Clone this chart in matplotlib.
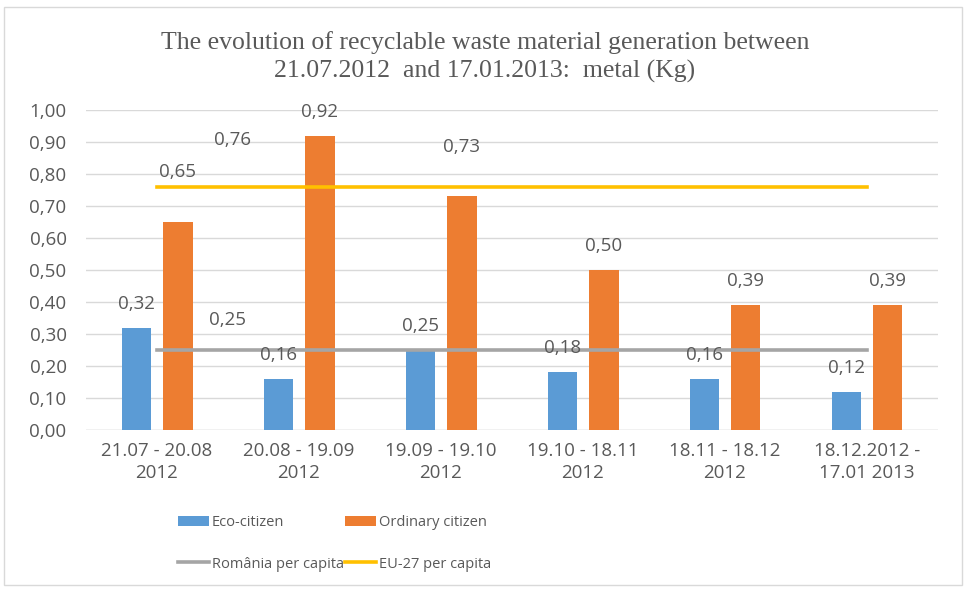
import matplotlib.pyplot as plt
import numpy as np
from matplotlib.patches import Rectangle

# Dados
periodos = ["21.07 - 20.08\n2012", "20.08 - 19.09\n2012", "19.09 - 19.10\n2012",
            "19.10 - 18.11\n2012", "18.11 - 18.12\n2012", "18.12.2012 -\n17.01 2013"]
eco = [0.32, 0.16, 0.25, 0.18, 0.16, 0.12]
comum = [0.65, 0.92, 0.73, 0.50, 0.39, 0.39]
romania = [0.25] * 6
ue27 = [0.76] * 6

azul = '#5B9BD5'
laranja = '#ED7D31'
cinza = '#A5A5A5'
amarelo = '#FFC000'
texto = '#595959'
fonte = 'Open Sans'
fs = 13.5

fig = plt.figure(figsize=(9.64, 5.89), dpi=100)
ax = fig.add_axes([86 / 964, 1 - 430 / 589, (938 - 86) / 964, 320 / 589])

x = np.arange(len(periodos))
w = 0.21
off = 0.145
b1 = ax.bar(x - off, eco, w, color=azul, label='Eco-citizen', zorder=2)
b2 = ax.bar(x + off, comum, w, color=laranja, label='Ordinary citizen', zorder=2)
l1, = ax.plot(x, romania, color=cinza, lw=2.6, label='România per capita', zorder=3)
l2, = ax.plot(x, ue27, color=amarelo, lw=2.6, label='EU-27 per capita', zorder=3)

ax.set_xlim(-0.5, len(periodos) - 0.5)
ax.set_ylim(0, 1.0)
ax.set_yticks(np.arange(0, 1.01, 0.1))
ax.set_yticklabels([f"{v:.2f}".replace('.', ',') for v in np.arange(0, 1.01, 0.1)],
                   fontsize=fs, color=texto, family=fonte)
ax.set_xticks(x)
ax.set_xticklabels(periodos, fontsize=fs, color=texto, family=fonte, linespacing=1.25)
ax.tick_params(length=0, pad=14)
ax.tick_params(axis='x', pad=9)
ax.grid(axis='y', color='#D9D9D9', lw=1, zorder=0)
for s in ax.spines.values():
    s.set_visible(False)
ax.axhline(0, color='#D9D9D9', lw=1, zorder=1)

# rótulos de valores
def rotulo(xp, yp, v):
    ax.text(xp, yp, f"{v:.2f}".replace('.', ','), ha='center', va='center',
            fontsize=fs, color=texto, family=fonte, zorder=4)

for i, v in enumerate(eco):
    rotulo(i - off, v + 0.075, v)
for i, v in enumerate(comum):
    dy = 0.075
    if i == 0 or i == 2:
        dy = 0.155
    rotulo(i + off, v + dy, v)
rotulo(0.53, ue27[0] + 0.145, ue27[0])
rotulo(0.50, romania[0] + 0.095, romania[0])

# título
fig.text(485 / 964, 1 - 43 / 589, "The evolution of recyclable waste material generation between",
         ha='center', va='center', fontsize=18.5, color=texto, family='Liberation Serif')
fig.text(485 / 964, 1 - 71 / 589, "21.07.2012  and 17.01.2013:  metal (Kg)",
         ha='center', va='center', fontsize=18.5, color=texto, family='Liberation Serif')

# legenda: duas colunas, ordem Eco / Ordinary / România / EU-27
fig.legend([b1, l1, b2, l2],
           ['Eco-citizen', 'România per capita', 'Ordinary citizen', 'EU-27 per capita'],
           loc='upper left', bbox_to_anchor=(171 / 964, 1 - 508 / 589), ncol=2,
           frameon=False, prop={'family': fonte, 'size': 10.5}, labelcolor=texto,
           borderpad=0, handlelength=2.1, handleheight=0.7, handletextpad=0.2,
           columnspacing=0.1, labelspacing=1.8)

# moldura do gráfico
fig.patches.append(Rectangle((4 / 964, 4 / 589), 958 / 964, 578 / 589, transform=fig.transFigure,
                             fill=False, edgecolor='#D9D9D9', lw=1))

fig.savefig('out.png', dpi=100)
